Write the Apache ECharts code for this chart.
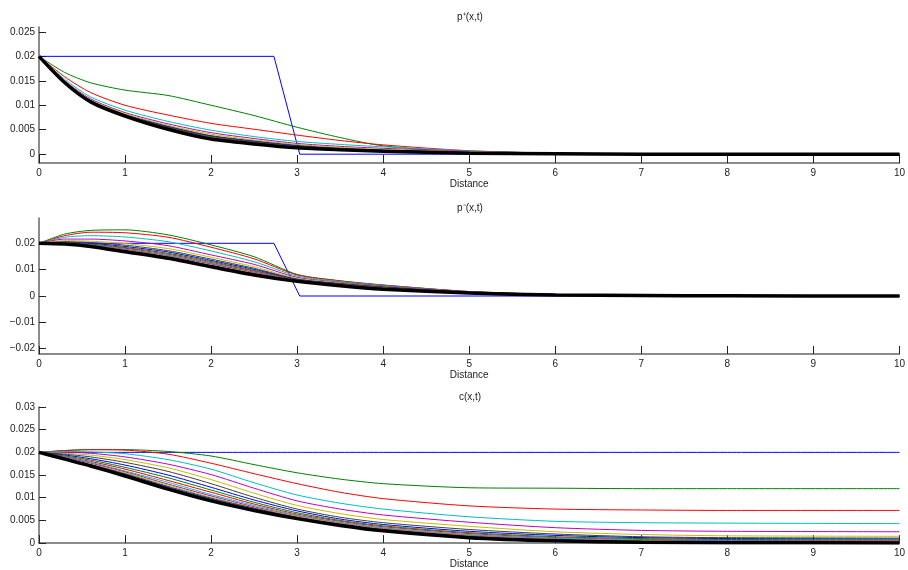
<!DOCTYPE html>
<html>
<head>
<meta charset="utf-8">
<script src="https://cdn.jsdelivr.net/npm/echarts@6/dist/echarts.min.js"></script>
<style>
  html, body { margin: 0; background: #fff; }
  #chart { width: 908px; height: 570px; }
</style>
</head>
<body>
<div id="chart"></div>
<script>
// sample positions along the distance axis
const xs = [0, 0.3, 0.6, 1, 1.5, 2, 2.5, 3, 3.5, 4, 5, 6, 7, 8, 10]
// initial step profile of p+ and p-
const stepX = [0, 2.73, 3.03, 10]
const stepY = [0.02, 0.02, 0, 0]

const xTicks = [0, 1, 2, 3, 4, 5, 6, 7, 8, 9, 10]
const pPlusTicks = [0, 0.005, 0.01, 0.015, 0.02, 0.025]
const pMinusTicks = [-0.02, -0.01, 0, 0.01, 0.02]
const cTicks = [0, 0.005, 0.01, 0.015, 0.02, 0.025, 0.03]

// old matlab line colour order b g r c m y k
const colorOrder = ['#0000ff', '#008000', '#ff0000', '#00bfbf', '#bf00bf', '#bfbf00', '#404040']

// p+(x,t), curves after the step, last one = final state
const pPlus = [
  [0.02, 0.0167, 0.0146, 0.0131, 0.012, 0.0100, 0.0079, 0.0055, 0.0034, 0.0017, 0.0004, 0.0001, 0, 0, 0],
  [0.02, 0.0158, 0.0126, 0.0100, 0.0080, 0.0063, 0.0051, 0.0039, 0.0028, 0.0019, 0.0007, 0.0002, 0.0001, 0, 0],
  [0.02, 0.0153, 0.0117, 0.0090, 0.0067, 0.0049, 0.0036, 0.0026, 0.0020, 0.0015, 0.0007, 0.0002, 0.0001, 0, 0],
  [0.02, 0.0150, 0.0113, 0.0085, 0.0062, 0.0044, 0.0032, 0.0022, 0.0016, 0.0012, 0.0006, 0.0002, 0.0001, 0, 0],
  [0.02, 0.0149, 0.0111, 0.0083, 0.0059, 0.0041, 0.0029, 0.0020, 0.0014, 0.0010, 0.0005, 0.0002, 0.0001, 0, 0],
  [0.02, 0.0148, 0.0109, 0.0081, 0.0057, 0.0038, 0.0027, 0.0018, 0.0012, 0.0008, 0.0004, 0.0001, 0, 0, 0],
  [0.02, 0.0148, 0.0109, 0.0080, 0.0056, 0.0037, 0.0026, 0.0017, 0.0011, 0.0008, 0.0003, 0.0001, 0, 0, 0],
  [0.02, 0.0147, 0.0108, 0.0080, 0.0055, 0.0036, 0.0025, 0.0016, 0.0011, 0.0007, 0.0003, 0.0001, 0, 0, 0],
  [0.02, 0.0147, 0.0108, 0.0079, 0.0054, 0.0035, 0.0024, 0.0015, 0.0010, 0.0007, 0.0003, 0.0001, 0, 0, 0],
  [0.02, 0.0147, 0.0108, 0.0079, 0.0053, 0.0034, 0.0023, 0.0015, 0.0010, 0.0007, 0.0003, 0.0001, 0, 0, 0],
  [0.02, 0.0146, 0.0107, 0.0079, 0.0053, 0.0033, 0.0023, 0.0014, 0.0010, 0.0006, 0.0002, 0.0001, 0, 0, 0],
  [0.02, 0.0146, 0.0107, 0.0078, 0.0052, 0.0033, 0.0022, 0.0014, 0.0009, 0.0006, 0.0002, 0.0001, 0, 0, 0],
  [0.02, 0.0146, 0.0107, 0.0078, 0.0051, 0.0031, 0.0021, 0.0013, 0.0009, 0.0006, 0.0002, 0.0001, 0, 0, 0]
]

// p-(x,t)
const pMinus = [
  [0.02, 0.0235, 0.0249, 0.0251, 0.0232, 0.0194, 0.0149, 0.0082, 0.0058, 0.0042, 0.0017, 0.0006, 0.0002, 0.0001, 0],
  [0.02, 0.0229, 0.0242, 0.0240, 0.0223, 0.0185, 0.0141, 0.0080, 0.0057, 0.0041, 0.0017, 0.0006, 0.0002, 0.0001, 0],
  [0.02, 0.0223, 0.0229, 0.0224, 0.0206, 0.0171, 0.0130, 0.0076, 0.0055, 0.0040, 0.0016, 0.0006, 0.0002, 0.0001, 0],
  [0.02, 0.0216, 0.0216, 0.0209, 0.0191, 0.0156, 0.0120, 0.0071, 0.0052, 0.0038, 0.0016, 0.0006, 0.0002, 0.0001, 0],
  [0.02, 0.0210, 0.0208, 0.0199, 0.0180, 0.0147, 0.0111, 0.0067, 0.0050, 0.0036, 0.0015, 0.0005, 0.0002, 0.0001, 0],
  [0.02, 0.0206, 0.0203, 0.0193, 0.0172, 0.0140, 0.0105, 0.0064, 0.0048, 0.0035, 0.0015, 0.0005, 0.0002, 0.0001, 0],
  [0.02, 0.0204, 0.0200, 0.0188, 0.0167, 0.0135, 0.0101, 0.0063, 0.0046, 0.0033, 0.0014, 0.0005, 0.0002, 0.0001, 0],
  [0.02, 0.0203, 0.0197, 0.0184, 0.0162, 0.0131, 0.0097, 0.0062, 0.0045, 0.0032, 0.0013, 0.0005, 0.0002, 0.0001, 0],
  [0.02, 0.0202, 0.0195, 0.0181, 0.0158, 0.0127, 0.0094, 0.0061, 0.0044, 0.0031, 0.0013, 0.0005, 0.0002, 0.0001, 0],
  [0.02, 0.0201, 0.0194, 0.0178, 0.0155, 0.0124, 0.0091, 0.0060, 0.0043, 0.0030, 0.0012, 0.0005, 0.0002, 0.0001, 0],
  [0.02, 0.0200, 0.0192, 0.0176, 0.0152, 0.0121, 0.0089, 0.0059, 0.0042, 0.0029, 0.0012, 0.0004, 0.0002, 0.0001, 0],
  [0.02, 0.0199, 0.0191, 0.0174, 0.0150, 0.0118, 0.0087, 0.0058, 0.0041, 0.0028, 0.0011, 0.0004, 0.0002, 0.0001, 0],
  [0.02, 0.0199, 0.0190, 0.0172, 0.0148, 0.0116, 0.0085, 0.0058, 0.0040, 0.0028, 0.0011, 0.0004, 0.0002, 0.0001, 0],
  [0.02, 0.0198, 0.0189, 0.0171, 0.0146, 0.0114, 0.0083, 0.0057, 0.0040, 0.0027, 0.0011, 0.0004, 0.0002, 0.0001, 0],
  [0.02, 0.0198, 0.0189, 0.0170, 0.0145, 0.0113, 0.0082, 0.0057, 0.0039, 0.0027, 0.0011, 0.0004, 0.0002, 0.0001, 0],
  [0.02, 0.0197, 0.0188, 0.0169, 0.0144, 0.0112, 0.0081, 0.0056, 0.0039, 0.0026, 0.0010, 0.0004, 0.0002, 0.0001, 0],
  [0.02, 0.0197, 0.0188, 0.0168, 0.0143, 0.0111, 0.0080, 0.0056, 0.0039, 0.0026, 0.0011, 0.0004, 0.0002, 0.0001, 0]
]

// c(x,t), first one is the flat initial value
const cCurves = [
  [0.02, 0.02, 0.02, 0.02, 0.02, 0.02, 0.02, 0.02, 0.02, 0.02, 0.02, 0.02, 0.02, 0.02, 0.02],
  [0.02, 0.0204, 0.0206, 0.0206, 0.0202, 0.0192, 0.0173, 0.0155, 0.0141, 0.0131, 0.0122, 0.0121, 0.0120, 0.0120, 0.0120],
  [0.02, 0.0204, 0.0206, 0.0205, 0.0196, 0.0176, 0.0153, 0.0131, 0.0112, 0.0098, 0.0082, 0.0075, 0.0073, 0.0072, 0.0072],
  [0.02, 0.0202, 0.0201, 0.0197, 0.0184, 0.0163, 0.0133, 0.0106, 0.0088, 0.0075, 0.0058, 0.0048, 0.0045, 0.0044, 0.0043],
  [0.02, 0.0200, 0.0198, 0.0190, 0.0174, 0.0151, 0.0121, 0.0093, 0.0075, 0.0062, 0.0046, 0.0034, 0.0028, 0.0026, 0.0025],
  [0.02, 0.0198, 0.0194, 0.0184, 0.0166, 0.0140, 0.0110, 0.0083, 0.0065, 0.0052, 0.0037, 0.0025, 0.0019, 0.0016, 0.0015],
  [0.02, 0.0196, 0.0190, 0.0178, 0.0158, 0.0131, 0.0101, 0.0075, 0.0057, 0.0045, 0.0030, 0.0020, 0.0014, 0.0012, 0.0011],
  [0.02, 0.0194, 0.0186, 0.0172, 0.0150, 0.0123, 0.0095, 0.0071, 0.0053, 0.0041, 0.0026, 0.0017, 0.0012, 0.0010, 0.0009],
  [0.02, 0.0192, 0.0183, 0.0167, 0.0144, 0.0117, 0.0090, 0.0067, 0.0050, 0.0038, 0.0023, 0.0014, 0.0010, 0.0008, 0.0007],
  [0.02, 0.0190, 0.0180, 0.0163, 0.0138, 0.0112, 0.0086, 0.0064, 0.0048, 0.0036, 0.0021, 0.0012, 0.0008, 0.0006, 0.0005],
  [0.02, 0.0189, 0.0178, 0.0159, 0.0134, 0.0107, 0.0083, 0.0062, 0.0046, 0.0034, 0.0019, 0.0011, 0.0007, 0.0005, 0.0004],
  [0.02, 0.0188, 0.0176, 0.0157, 0.0130, 0.0104, 0.0080, 0.0060, 0.0044, 0.0032, 0.0017, 0.0009, 0.0005, 0.0004, 0.0003],
  [0.02, 0.0187, 0.0174, 0.0155, 0.0128, 0.0101, 0.0078, 0.0059, 0.0043, 0.0031, 0.0016, 0.0008, 0.0005, 0.0003, 0.0002],
  [0.02, 0.0187, 0.0173, 0.0153, 0.0125, 0.0099, 0.0077, 0.0057, 0.0042, 0.0030, 0.0015, 0.0007, 0.0004, 0.0003, 0.0002],
  [0.02, 0.0186, 0.0172, 0.0151, 0.0123, 0.0097, 0.0075, 0.0056, 0.0041, 0.0029, 0.0014, 0.0007, 0.0003, 0.0002, 0.0001],
  [0.02, 0.0186, 0.0171, 0.0150, 0.0122, 0.0096, 0.0074, 0.0055, 0.0040, 0.0028, 0.0013, 0.0006, 0.0003, 0.0002, 0.0001],
  [0.02, 0.0185, 0.0171, 0.0149, 0.0120, 0.0094, 0.0073, 0.0055, 0.0039, 0.0028, 0.0013, 0.0005, 0.0002, 0.0001, 0.0001],
  [0.02, 0.0185, 0.0170, 0.0148, 0.0119, 0.0093, 0.0072, 0.0054, 0.0039, 0.0027, 0.0012, 0.0005, 0.0002, 0.0001, 0]
]

const font = 'Liberation Sans, Arial, Helvetica, sans-serif'
const axisGray = '#666'

function fmt(v) {
  const s = String(+Math.abs(v).toFixed(4))
  return v < 0 ? '\u2212' + s : s
}

const panels = [
  { title: 'p\u207A(x,t)', top: 27, height: 136, min: -0.0018, max: 0.026, ticks: pPlusTicks, step: true, curves: pPlus },
  { title: 'p\u207B(x,t)', top: 218, height: 136, min: -0.022, max: 0.0296, ticks: pMinusTicks, step: true, curves: pMinus },
  { title: 'c(x,t)', top: 407, height: 137, min: 0, max: 0.03, ticks: cTicks, step: false, curves: cCurves }
]

const grids = [], xAxes = [], yAxes = [], series = [], titles = []

panels.forEach((p, i) => {
  grids.push({ left: 39, right: 7, top: p.top, height: p.height })
  xAxes.push({
    type: 'value', gridIndex: i, min: 0, max: 10, interval: 1,
    name: 'Distance', nameLocation: 'middle', nameGap: 15,
    nameTextStyle: { fontFamily: font, fontSize: 10, color: '#222' },
    axisLine: { onZero: false, lineStyle: { color: axisGray, width: 1.5 } },
    axisTick: { inside: true, length: 8, lineStyle: { color: '#222' }, customValues: xTicks },
    axisLabel: { fontFamily: font, fontSize: 10, color: '#222', margin: 5, customValues: xTicks },
    splitLine: { show: false }
  })
  yAxes.push({
    type: 'value', gridIndex: i, min: p.min, max: p.max,
    axisLine: { show: true, lineStyle: { color: axisGray, width: 1.5 } },
    axisTick: { show: true, inside: true, length: 7, lineStyle: { color: '#222' }, customValues: p.ticks },
    axisLabel: { fontFamily: font, fontSize: 10, color: '#222', margin: 4, customValues: p.ticks, formatter: fmt },
    splitLine: { show: false }
  })
  titles.push({
    type: 'text', x: 470, y: p.top - 10,
    style: { text: p.title, font: '10px ' + font, fill: '#222', align: 'center', verticalAlign: 'middle' }
  })

  let k = 0
  if (p.step) {
    series.push({
      type: 'line', xAxisIndex: i, yAxisIndex: i, symbol: 'none', silent: true,
      data: stepX.map((x, j) => [x, stepY[j]]),
      lineStyle: { color: colorOrder[0], width: 1 }
    })
    k = 1
  }
  p.curves.forEach((ys, j) => {
    const last = j === p.curves.length - 1
    series.push({
      type: 'line', xAxisIndex: i, yAxisIndex: i, symbol: 'none', silent: true,
      smooth: 0.25,
      data: xs.map((x, n) => [x, ys[n]]),
      lineStyle: { color: last ? '#000' : colorOrder[(k + j) % 7], width: last ? 3.5 : 1 }
    })
  })
})

const chart = echarts.init(document.getElementById('chart'))
chart.setOption({
  animation: false,
  backgroundColor: '#fff',
  grid: grids,
  xAxis: xAxes,
  yAxis: yAxes,
  series: series,
  graphic: titles
})
window.addEventListener('resize', () => chart.resize())
</script>
</body>
</html>
